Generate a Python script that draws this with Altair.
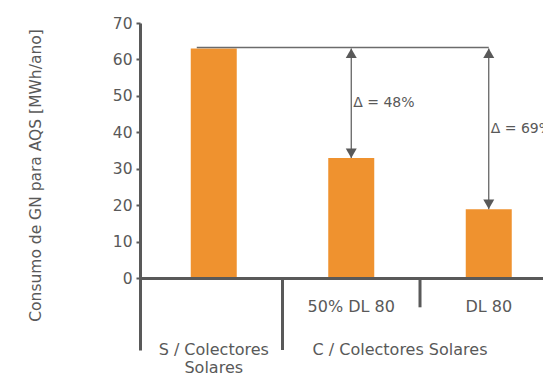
import altair as alt
import pandas as pd

# Consumo de gás natural para AQS por cenário
categorias = ["S / Colectores Solares", "50% DL 80", "DL 80"]
consumo = [63, 33, 19]
rotulos = ["", "50% DL 80", "DL 80"]
grupos = ["S / Colectores\nSolares", "C / Colectores Solares"]
grupo_inicio = [0, 1]
grupo_fim = [1, 3]
deltas = ["Δ = 48%", "Δ = 69%"]
y_ticks = [0, 10, 20, 30, 40, 50, 60, 70]

FONT = "DejaVu Sans"
GREY = "#595959"
ORANGE = "#EF922F"

W, H = 403, 327
Y_MIN, Y_MAX = -19.6, 70
X_MAX = 403 / 141.0

bars = pd.DataFrame({
    "cat": categorias,
    "pos": [i + 0.5 for i in range(len(categorias))],
    "valor": consumo,
    "rotulo": rotulos,
})
ref = consumo[0]
arrows = pd.DataFrame({
    "pos": bars["pos"][1:].tolist(),
    "topo": [ref] * (len(consumo) - 1),
    "base": consumo[1:],
    "texto": deltas,
})
arrows["meio"] = (arrows["topo"] + arrows["base"]) / 2

groups = pd.DataFrame({"nome": grupos, "ini": grupo_inicio, "fim": grupo_fim})
groups["centro"] = (groups["ini"] + groups["fim"]) / 2

seps = pd.DataFrame({"pos": [1, 2], "y0": [0, 0], "y1": [Y_MIN, -7.9]})

xs = alt.Scale(domain=[0, X_MAX], nice=False, zero=False)
ys = alt.Scale(domain=[Y_MIN, Y_MAX], nice=False, zero=False)

y_axis = alt.Axis(
    values=y_ticks, grid=False, domainColor=GREY, domainWidth=3,
    tickColor=GREY, tickWidth=2, tickSize=4, labelPadding=4,
    labelFont=FONT, labelFontSize=15.5, labelColor=GREY,
    title="Consumo de GN para AQS [MWh/ano]", titleFont=FONT,
    titleFontSize=15.5, titleFontWeight="normal", titleColor=GREY,
    titleAngle=-90, titleX=-105, titleY=152, titleAlign="center",
    titleBaseline="middle",
)

barras = alt.Chart(bars).mark_bar(size=46, color=ORANGE).encode(
    x=alt.X("pos:Q", scale=xs, axis=None),
    y=alt.Y("valor:Q", scale=ys, axis=y_axis),
    y2=alt.datum(0),
)

base_line = alt.Chart(bars).mark_rule(color=GREY, strokeWidth=3).encode(
    x=alt.value(0), x2=alt.value(W), y=alt.datum(0)
)

separadores = alt.Chart(seps).mark_rule(color=GREY, strokeWidth=3).encode(
    x=alt.X("pos:Q", scale=xs), y=alt.Y("y0:Q", scale=ys), y2="y1:Q"
)

topo_df = pd.DataFrame({"a": [bars["pos"][0]], "b": [arrows["pos"].iloc[-1]], "v": [ref]})
topo_line = alt.Chart(topo_df).mark_rule(
    color="#6b6b6b", strokeWidth=1.5, xOffset=-17, yOffset=-1
).encode(x=alt.X("a:Q", scale=xs), x2="b:Q", y=alt.Y("v:Q", scale=ys))

setas = alt.Chart(arrows).mark_rule(color=GREY, strokeWidth=1.2).encode(
    x=alt.X("pos:Q", scale=xs), y=alt.Y("topo:Q", scale=ys), y2="base:Q"
)
ponta_cima = alt.Chart(arrows).mark_point(
    shape="triangle-up", filled=True, size=121, color=GREY, opacity=1, yOffset=4.8
).encode(x=alt.X("pos:Q", scale=xs), y=alt.Y("topo:Q", scale=ys))
ponta_baixo = alt.Chart(arrows).mark_point(
    shape="triangle-down", filled=True, size=121, color=GREY, opacity=1, yOffset=-4.8
).encode(x=alt.X("pos:Q", scale=xs), y=alt.Y("base:Q", scale=ys))

delta_txt = alt.Chart(arrows).mark_text(
    align="left", baseline="middle", dx=2, font=FONT, fontSize=14, color=GREY
).encode(x=alt.X("pos:Q", scale=xs), y=alt.Y("meio:Q", scale=ys), text="texto:N")

rotulos_txt = alt.Chart(bars).mark_text(
    align="center", baseline="alphabetic", font=FONT, fontSize=16, color=GREY
).encode(x=alt.X("pos:Q", scale=xs), y=alt.datum(-9.15), text="rotulo:N")

grupo_s = alt.Chart(groups.iloc[[0]]).mark_text(
    align="center", baseline="alphabetic", font=FONT, fontSize=16, color=GREY,
    lineBreak="\n", lineHeight=18
).encode(x=alt.X("centro:Q", scale=xs), y=alt.datum(-21.0), text="nome:N")

grupo_c = alt.Chart(groups.iloc[[1]]).mark_text(
    align="center", baseline="alphabetic", font=FONT, fontSize=16, color=GREY,
    dx=-20
).encode(x=alt.X("centro:Q", scale=xs), y=alt.datum(-21.0), text="nome:N")

chart = alt.layer(
    barras, topo_line, setas, ponta_cima, ponta_baixo, delta_txt,
    base_line, separadores, rotulos_txt, grupo_s, grupo_c,
).properties(
    width=W, height=H, autosize="none", background="white",
    padding={"left": 140, "top": 23, "right": 0, "bottom": 27},
).configure_view(strokeWidth=0, stroke="transparent")

chart.save("out.html", embed_options={"renderer": "svg", "actions": False})
